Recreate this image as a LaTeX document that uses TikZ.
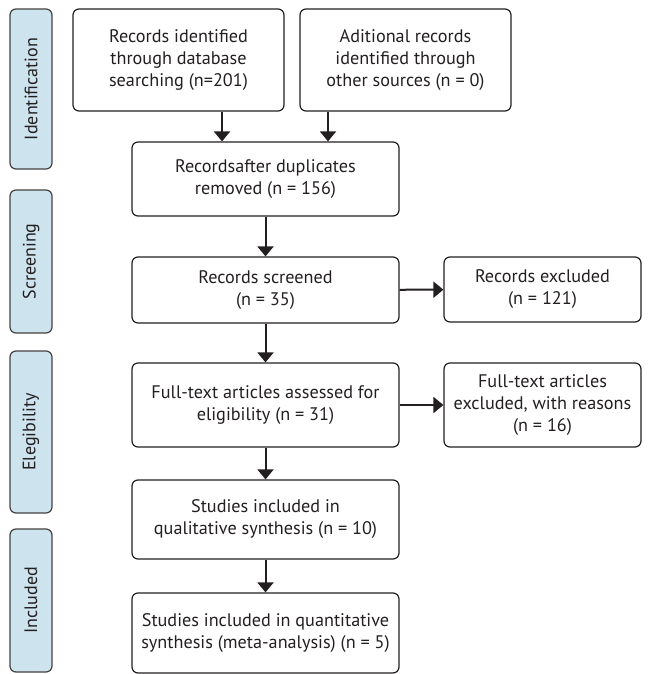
\documentclass[tikz,border=0pt]{standalone}
\usepackage{fontspec}
\setmainfont{PT Sans}
\usetikzlibrary{arrows.meta}
\definecolor{stagefill}{HTML}{CDE3EE}
\definecolor{inkgray}{HTML}{231F20}
\tikzset{
  flowbox/.style={draw=inkgray, line width=1.2pt, rounded corners=6pt, align=center,
    text=inkgray, font=\fontsize{18.2}{22}\selectfont, inner sep=0pt},
  stagebox/.style={draw=inkgray!85, fill=stagefill, line width=1.2pt, rounded corners=6pt,
    minimum width=42pt, text=inkgray, font=\fontsize{18}{20}\selectfont, rotate=90, inner sep=0pt},
  arr/.style={-{Triangle[width=16pt,length=10pt]}, line width=2pt, draw=inkgray}
}
\begin{document}
\begin{tikzpicture}[x=1pt,y=-1pt]
\useasboundingbox (0,0) rectangle (648,674);
% stages
\node[stagebox, minimum height=42pt, minimum width=160pt] (id) at (31,89) {Identification};
\node[stagebox, minimum height=42pt, minimum width=143pt] (scr) at (31,261.5) {Screening};
\node[stagebox, minimum height=42pt, minimum width=162pt] (eli) at (31,432) {Elegibility};
\node[stagebox, minimum height=42pt, minimum width=143pt] (inc) at (31,600.5) {Included};
% boxes
\node[flowbox, minimum width=211pt, minimum height=102pt] (db) at (178.5,60) {Records identified\\through database\\searching (n=201)};
\node[flowbox, minimum width=211pt, minimum height=102pt] (other) at (405.5,60) {Aditional records\\identified through\\other sources (n = 0)};
\node[flowbox, minimum width=267pt, minimum height=74pt] (dup) at (265.5,179) {Recordsafter duplicates\\removed (n = 156)};
\node[flowbox, minimum width=267pt, minimum height=66pt] (scrd) at (265.5,290) {Records screened\\(n = 35)};
\node[flowbox, minimum width=197pt, minimum height=65pt] (excl) at (542.5,289.5) {Records excluded\\(n = 121)};
\node[flowbox, minimum width=267pt, minimum height=84pt] (full) at (265.5,405) {Full-text articles assessed for\\eligibility (n = 31)};
\node[flowbox, minimum width=197pt, minimum height=84pt] (fullex) at (542.5,405) {Full-text articles\\excluded, with reasons\\(n = 16)};
\node[flowbox, minimum width=267pt, minimum height=79pt] (qual) at (265.5,519.5) {Studies included in\\qualitative synthesis (n = 10)};
\node[flowbox, minimum width=267pt, minimum height=80pt] (quant) at (265.5,633) {Studies included in quantitative\\synthesis (meta-analysis) (n = 5)};
% arrows
\draw[arr] ([xshift=-43.5pt]dup.north |- db.south) -- ([xshift=-43.5pt]dup.north);
\draw[arr] ([xshift=62.5pt]dup.north |- other.south) -- ([xshift=62.5pt]dup.north);
\draw[arr] (dup) -- (scrd);
\draw[arr] (scrd) -- (excl);
\draw[arr] (scrd) -- (full);
\draw[arr] (full) -- (fullex);
\draw[arr] (full) -- (qual);
\draw[arr] (qual) -- (quant);
\end{tikzpicture}
\end{document}
